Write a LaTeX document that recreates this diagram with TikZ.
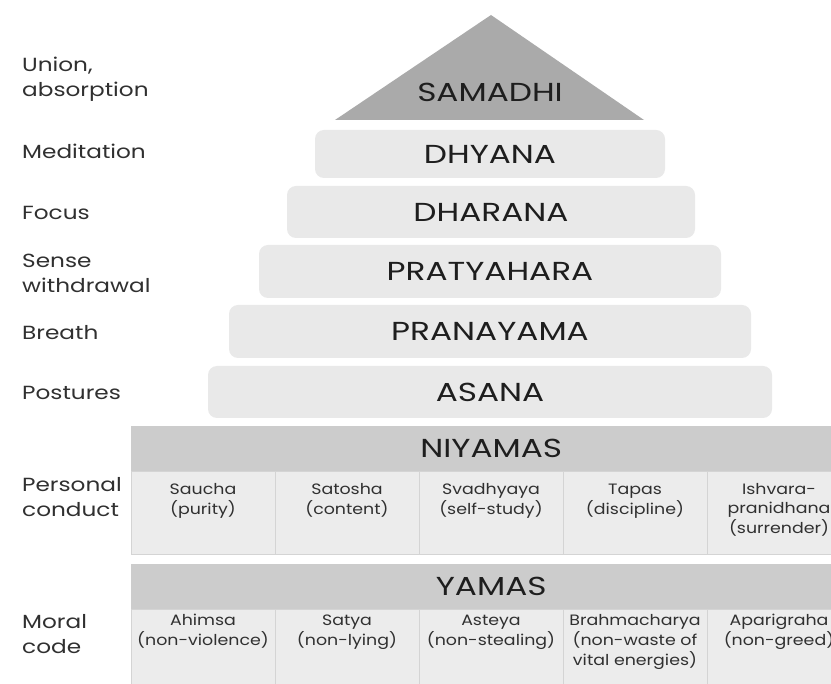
\documentclass[tikz,border=0pt]{standalone}
\usepackage{fontspec}
\setmainfont{Poppins}
\newfontfamily\bigfont{Poppins}[FakeStretch=1.26]
\newfontfamily\labfont{Poppins}[FakeStretch=1.22]
\newfontfamily\cellfont{Poppins}[FakeStretch=1.16]
\definecolor{barfill}{HTML}{E9E9E9}
\definecolor{trifill}{HTML}{AAAAAA}
\definecolor{hdrfill}{HTML}{CCCCCC}
\definecolor{cellfill}{HTML}{ECECEC}
\definecolor{cellline}{HTML}{D4D4D4}
\definecolor{txt}{HTML}{1E1E1E}
\definecolor{labtxt}{HTML}{303030}
\newcommand\ct[1]{\begin{tabular}[t]{@{}c@{}}#1\end{tabular}}
\newcommand\lt[1]{\begin{tabular}[t]{@{}l@{}}#1\end{tabular}}
\tikzset{
  bigtext/.style={text=txt, font=\bigfont\fontsize{26}{30}\selectfont},
  barbox/.style={bigtext, fill=barfill, rounded corners=9pt, inner sep=0pt},
  hdrbox/.style={bigtext, fill=hdrfill, inner sep=0pt, anchor=north west, minimum width=720pt, minimum height=45pt},
  cellbox/.style={fill=cellfill, draw=cellline, line width=1pt, inner sep=0pt, anchor=north west, minimum width=144pt},
  celltext/.style={anchor=base, inner sep=0pt, text=labtxt, font=\cellfont\fontsize{15}{18.5}\selectfont},
  lab/.style={anchor=base west, inner sep=0pt, text=labtxt, font=\labfont\fontsize{19}{24.5}\selectfont},
}
\begin{document}
\begin{tikzpicture}[x=1pt,y=-1pt]
\useasboundingbox (0,0) rectangle (831,684);
\fill[white] (0,0) rectangle (831,684);
\begin{scope}
\clip (0,0) rectangle (831,684);
% pyramid
\fill[trifill] (491,15) -- (644,120) -- (335,120) -- cycle;
\node[bigtext, inner sep=0pt] (samadhi) at (490,92) {SAMADHI};
\node[barbox, minimum width=350pt, minimum height=48pt] (dhyana) at (490,154) {DHYANA};
\node[barbox, minimum width=408pt, minimum height=52pt] (dharana) at (491,212) {DHARANA};
\node[barbox, minimum width=462pt, minimum height=53pt] (pratya) at (490,271.5) {PRATYAHARA};
\node[barbox, minimum width=522pt, minimum height=53pt] (prana) at (490,331.5) {PRANAYAMA};
\node[barbox, minimum width=564pt, minimum height=52pt] (asana) at (490,392) {ASANA};
% niyamas
\node[hdrbox] (niyhdr) at (131,426) {NIYAMAS};
\node[cellbox, minimum height=83pt] (n1) at (131,471) {};
\node[cellbox, minimum height=83pt] (n2) at (275,471) {};
\node[cellbox, minimum height=83pt] (n3) at (419,471) {};
\node[cellbox, minimum height=83pt] (n4) at (563,471) {};
\node[cellbox, minimum height=83pt] (n5) at (707,471) {};
\node[celltext] (n1t) at (203,495) {\ct{Saucha\\(purity)}};
\node[celltext] (n2t) at (347,495) {\ct{Satosha\\(content)}};
\node[celltext] (n3t) at (491,495) {\ct{Svadhyaya\\(self-study)}};
\node[celltext] (n4t) at (635,495) {\ct{Tapas\\(discipline)}};
\node[celltext] (n5t) at (779,495) {\ct{Ishvara-\\pranidhana\\(surrender)}};
% yamas
\node[hdrbox] (yamhdr) at (131,564) {YAMAS};
\node[cellbox, minimum height=90pt] (y1) at (131,609) {};
\node[cellbox, minimum height=90pt] (y2) at (275,609) {};
\node[cellbox, minimum height=90pt] (y3) at (419,609) {};
\node[cellbox, minimum height=90pt] (y4) at (563,609) {};
\node[cellbox, minimum height=90pt] (y5) at (707,609) {};
\node[celltext] (y1t) at (203,626) {\ct{Ahimsa\\(non-violence)}};
\node[celltext] (y2t) at (347,626) {\ct{Satya\\(non-lying)}};
\node[celltext] (y3t) at (491,626) {\ct{Asteya\\(non-stealing)}};
\node[celltext] (y4t) at (635,626) {\ct{Brahmacharya\\(non-waste of\\vital energies)}};
\node[celltext] (y5t) at (779,626) {\ct{Aparigraha\\(non-greed)}};
% labels
\node[lab] (l1) at (22,72) {\lt{Union,\\absorption}};
\node[lab] (l2) at (22,159) {Meditation};
\node[lab] (l3) at (22,220) {Focus};
\node[lab] (l4) at (22,268) {\lt{Sense\\withdrawal}};
\node[lab] (l5) at (22,340) {Breath};
\node[lab] (l6) at (22,400) {Postures};
\node[lab] (l7) at (22,492) {\lt{Personal\\conduct}};
\node[lab] (l8) at (22,629) {\lt{Moral\\code}};
\end{scope}
\end{tikzpicture}
\end{document}
